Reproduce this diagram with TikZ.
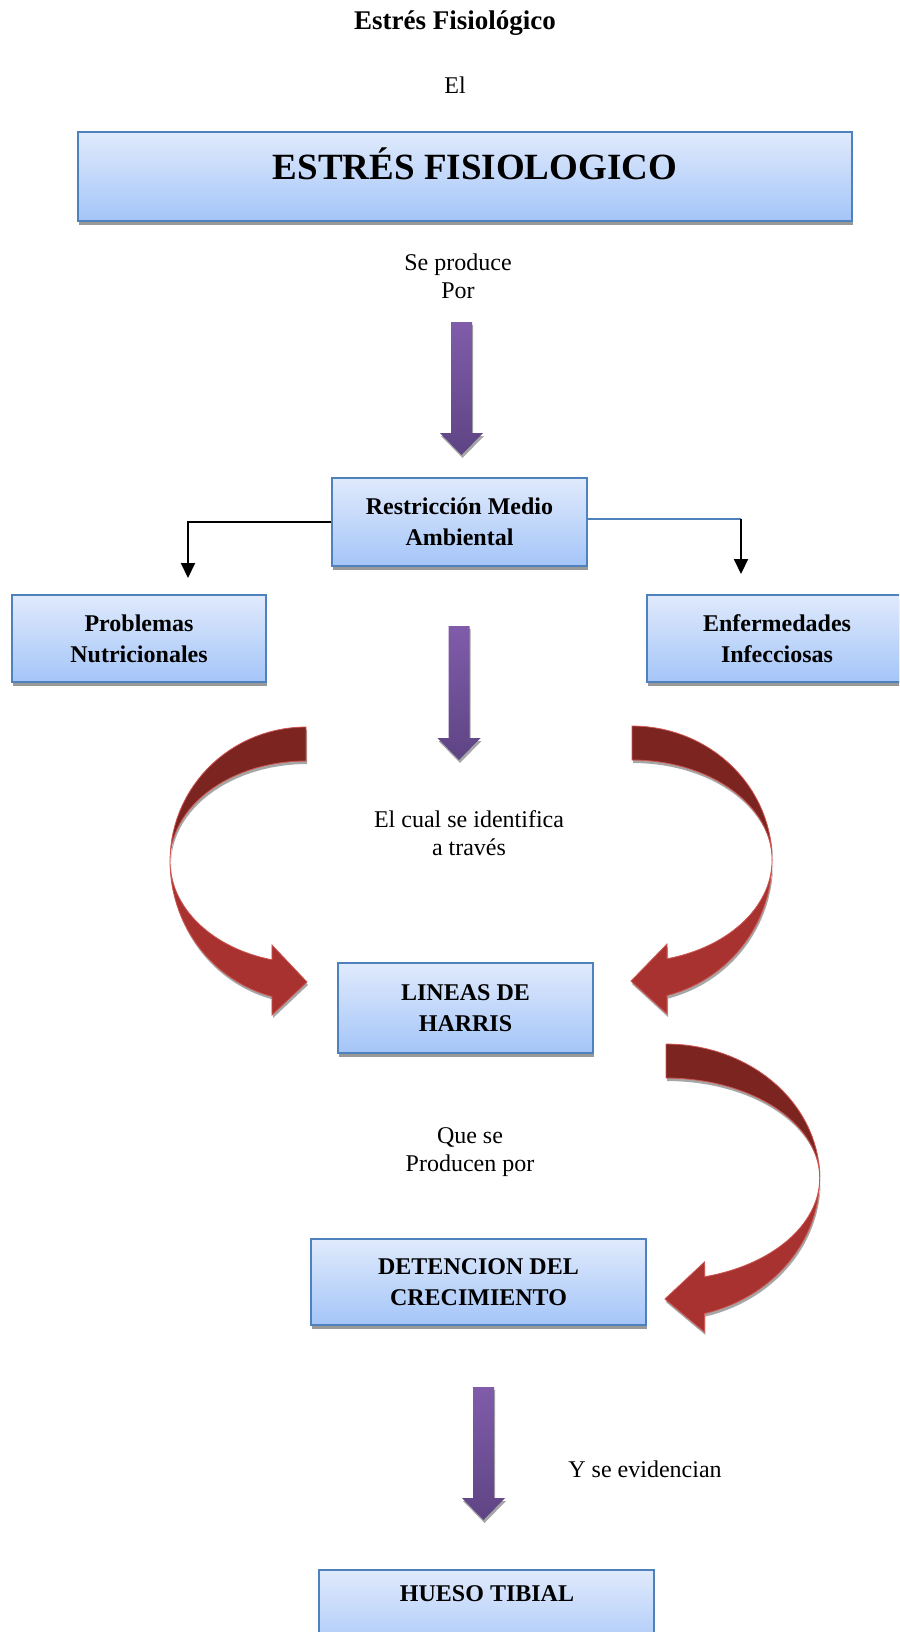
\documentclass[tikz,border=0pt]{standalone}
\usepackage{fontspec}
\setmainfont{Liberation Serif}
\usetikzlibrary{arrows.meta,shadows}

\definecolor{boxtop}{RGB}{224,234,252}
\definecolor{boxbot}{RGB}{164,197,248}
\definecolor{boxline}{RGB}{79,129,189}
\definecolor{purtop}{RGB}{128,92,170}
\definecolor{purbot}{RGB}{94,68,132}
\definecolor{redback}{RGB}{124,36,32}
\definecolor{redfront}{RGB}{168,50,47}
\definecolor{rededge}{RGB}{206,86,82}

% straight purple block arrow: centre x, top y, tip y
\newcommand{\purpledown}[3]{%
  \shade[top color=purtop, bottom color=purbot,
         drop shadow={shadow xshift=0.5pt,shadow yshift=-1.5pt,fill=black!35,opacity=1}]
    (#1-10.5,#2) -- (#1+10.5,#2) -- (#1+10.5,#3-22) -- (#1+21.5,#3-22)
    -- (#1,#3) -- (#1-21.5,#3-22) -- (#1-10.5,#3-22) -- cycle;}

% curved red ribbon arrow: centre x, centre y, xscale, yscale
\newcommand{\redcurve}[4]{%
  \begin{scope}[shift={(#1,#2)}, xscale=#3, yscale=#4]
    \filldraw[ribbonback] plot[domain=90:180,samples=30] ({136*cos(\x)},{-134*sin(\x)})
      -- plot[domain=180:90,samples=30] ({136*cos(\x)},{-100*sin(\x)}) -- cycle;
    \filldraw[ribbonfront] plot[domain=180:255.5,samples=30] ({136*cos(\x)},{-140*sin(\x)})
      -- (-34,154) -- (1,121) -- (-34,84)
      -- plot[domain=255.5:180,samples=30] ({136*cos(\x)},{-102*sin(\x)}) -- cycle;
  \end{scope}}

\begin{document}
\begin{tikzpicture}[x=0.5pt,y=-0.5pt,
    box/.style={rectangle,draw=boxline,line width=1pt,top color=boxtop,bottom color=boxbot,
                inner sep=0pt,align=center,font=\fontsize{12}{15.5}\selectfont\bfseries,
                drop shadow={shadow xshift=0.5pt,shadow yshift=-2pt,fill=black!40,opacity=1}},
    txt/.style={align=center,inner sep=0pt,font=\fontsize{12}{14}\selectfont},
    boxtxt/.style={inner sep=0pt,font=\fontsize{12}{15.5}\selectfont\bfseries},
    ribbonback/.style={fill=redback,draw=rededge,line width=0.4pt,
                drop shadow={shadow xshift=0.5pt,shadow yshift=-1.5pt,fill=black!35,opacity=1}},
    ribbonfront/.style={fill=redfront,draw=rededge,line width=0.4pt,
                drop shadow={shadow xshift=0.5pt,shadow yshift=-1.5pt,fill=black!35,opacity=1}},
    conn/.style={line width=1pt,-{Triangle[length=7.5pt,width=7pt]}}]
\clip (0,0) rectangle (899,1632);
\useasboundingbox (0,0) rectangle (899,1632);

% Block arrows
\purpledown{461.5}{322}{455}
\purpledown{459}{626}{760}
\purpledown{483.5}{1387}{1520}
\redcurve{306}{861}{1}{1}
\redcurve{632}{860}{-1.03}{1}
\redcurve{666}{1178}{-1.13}{1}

% Create nodes for the chart
\node[boxtxt,font=\fontsize{13.5}{16}\selectfont\bfseries] (title) at (455,23) {Estrés Fisiológico};
\node[txt] (el) at (455,85) {El};
\node[box,minimum width=387pt,minimum height=44.5pt] (estres) at (465,176.5) {};
\node[boxtxt,font=\fontsize{18.5}{22}\selectfont\bfseries] (estreslabel) at (475,164) {ESTRÉS FISIOLOGICO};
\node[txt] (produce) at (458,276) {Se produce\\Por};
\node[box,minimum width=127.5pt,minimum height=44pt] (restr) at (459.5,522) {Restricción Medio\\Ambiental};
\node[box,minimum width=127pt,minimum height=43.5pt] (nutri) at (139,638.5) {Problemas\\Nutricionales};
\node[box,minimum width=130pt,minimum height=43.5pt] (infec) at (777,638.5) {Enfermedades\\Infecciosas};
\node[txt] (identifica) at (469,833) {El cual se identifica\\a través};
\node[box,minimum width=127.5pt,minimum height=45pt] (harris) at (465.5,1008) {LINEAS DE\\HARRIS};
\node[txt] (causa) at (470,1152) {Que se\\Producen por};
\node[box,minimum width=167.5pt,minimum height=43pt] (detencion) at (478.5,1282) {DETENCION DEL\\CRECIMIENTO};
\node[txt] (evidencia) at (645,1469) {Y se evidencian};
\node[box,minimum width=167.5pt,minimum height=45pt] (tibia) at (486.5,1615) {};
\node[boxtxt] (tibialabel) at (487,1594) {HUESO TIBIAL};

% Create connectors
\coordinate (nutritip) at (188,578);
\coordinate (infecbend) at (741,519);
\coordinate (infectip) at (741,574);
\draw[conn] (restr.west) -| (nutritip);
\draw[boxline,line width=1pt] (restr.east |- infecbend) -- (infecbend);
\draw[conn] (infecbend) -- (infectip);
\end{tikzpicture}
\end{document}
